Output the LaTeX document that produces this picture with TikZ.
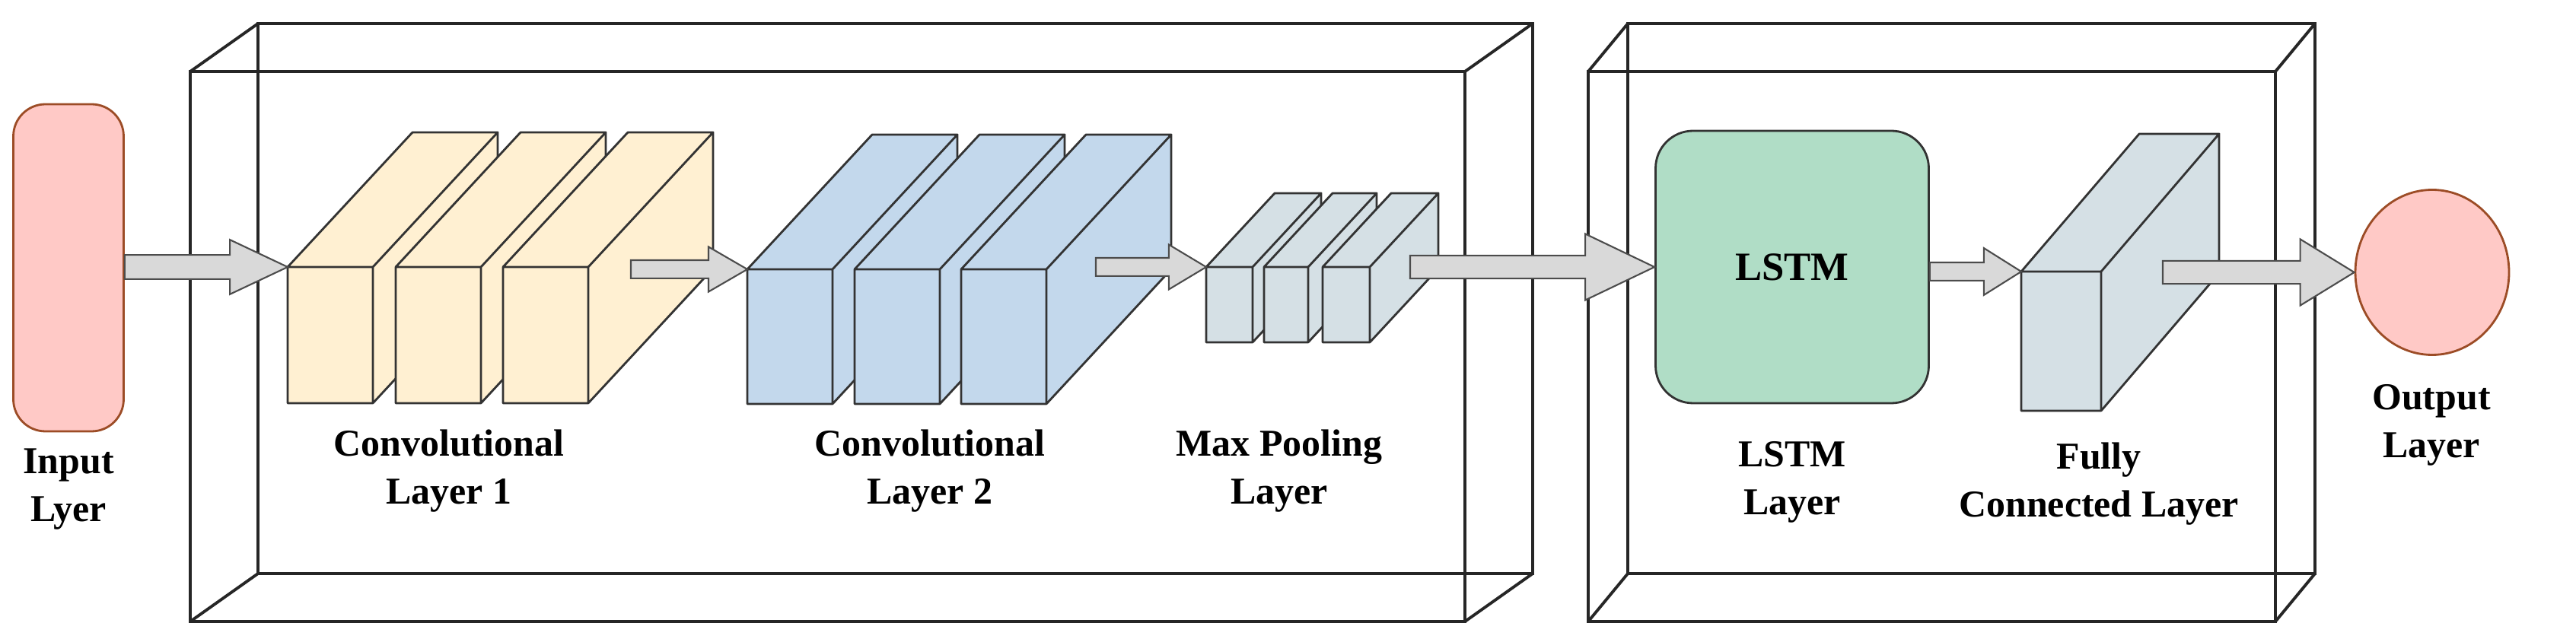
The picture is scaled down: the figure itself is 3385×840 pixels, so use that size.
\documentclass[tikz,border=0pt]{standalone}
\usepackage{fontspec}
\setmainfont{Liberation Serif}
\usetikzlibrary{calc,shapes.geometric}
\definecolor{inpink}{HTML}{FFC9C6}
\definecolor{convcream}{HTML}{FFF0D2}
\definecolor{convblue}{HTML}{C3D8EC}
\definecolor{poolgray}{HTML}{D5E0E5}
\definecolor{lstmgreen}{HTML}{B0DDC6}
\definecolor{arrgray}{HTML}{D9D9D9}
\tikzset{
  frame/.style={line width=1.1pt, draw=black!85},
  lbl/.style={font=\fontsize{14.2}{18}\selectfont\bfseries, align=center},
  fatarrow/.style={fill=arrgray, draw=black!70, line width=0.6pt, line join=miter},
}
% name, x, y, w, h, dx, dy, colour
\newcommand\layerblock[8]{%
  \filldraw[fill=#8, draw=black!80, line width=0.8pt, line join=round]
    (#2,#3) rectangle ++(#4,#5)
    (#2,#3) -- ++(#6,-#7) -- ++(#4,0) -- ++(-#6,#7) -- cycle
    (#2+#4,#3) -- ++(#6,-#7) -- ++(0,#5) -- ++(-#6,#7) -- cycle;
  \coordinate (#1) at (#2,#3);}
% box: x1, y1, x2, y2, dx, dy
\newcommand\stageframe[6]{%
  \draw[frame] (#1,#2) rectangle (#3,#4);
  \draw[frame] (#1+#5,#2-#6) rectangle (#3+#5,#4-#6);
  \draw[frame] (#1,#2) -- ++(#5,-#6) (#3,#2) -- ++(#5,-#6)
    (#1,#4) -- ++(#5,-#6) (#3,#4) -- ++(#5,-#6);}
% start, tip, shaft half, head half, head length
\newcommand\bigarrow[5]{%
  \draw[fatarrow] let \p1=(#1), \p2=(#2) in
    (\x1,\y2-#3) -- (\x2-#5,\y2-#3) -- (\x2-#5,\y2-#4) -- (\x2,\y2)
    -- (\x2-#5,\y2+#4) -- (\x2-#5,\y2+#3) -- (\x1,\y2+#3) -- cycle;}
\begin{document}
\begin{tikzpicture}[x=0.1mm, y=-0.1mm]
  \useasboundingbox (0,0) rectangle (3385,840);
  % the two frames
  \stageframe{250}{94}{1925}{817}{89}{63}
  \stageframe{2087}{94}{2990}{817}{52}{63}
  % input and output
  \node[draw=black!60!red!40!brown, fill=inpink, rounded corners=12pt, line width=0.8pt,
        minimum width=1.45cm, minimum height=4.3cm] (input) at (90,352) {};
  \node[ellipse, draw=black!60!red!40!brown, fill=inpink, line width=0.8pt,
        minimum width=2.02cm, minimum height=2.17cm] (output) at (3196,358) {};
  % conv layers
  \layerblock{conva}{378}{351}{112}{179}{164}{177}{convcream}
  \layerblock{convb}{520}{351}{112}{179}{164}{177}{convcream}
  \layerblock{convc}{661}{351}{112}{179}{164}{177}{convcream}
  \layerblock{convd}{982}{354}{112}{177}{164}{177}{convblue}
  \layerblock{conve}{1123}{354}{112}{177}{164}{177}{convblue}
  \layerblock{convf}{1263}{354}{112}{177}{164}{177}{convblue}
  % max pooling
  \layerblock{poola}{1585}{351}{61}{99}{90}{97}{poolgray}
  \layerblock{poolb}{1661}{351}{58}{99}{90}{97}{poolgray}
  \layerblock{poolc}{1738}{351}{62}{99}{90}{97}{poolgray}
  % lstm and dense
  \node[draw=black!80, fill=lstmgreen, rounded corners=14pt, line width=0.8pt,
        minimum width=3.59cm, minimum height=3.58cm,
        font=\fontsize{15}{18}\selectfont\bfseries] (lstm) at (2355,351) {LSTM};
  \layerblock{dense}{2656}{357}{105}{183}{155}{181}{poolgray}
  % arrow start points
  \coordinate (sa) at (829,352);
  \coordinate (sb) at (1440,352);
  \coordinate (sc) at (1853,352);
  \coordinate (sd) at (2842,358);
  \bigarrow{input.east}{conva}{4.5pt}{10.2pt}{21.6pt}
  \bigarrow{sa}{convd}{3.4pt}{8.4pt}{14.5pt}
  \bigarrow{sb}{poola}{3.4pt}{8.4pt}{14pt}
  \bigarrow{sc}{lstm.west}{4.3pt}{12.4pt}{25.9pt}
  \bigarrow{lstm.east}{dense}{3.4pt}{8.8pt}{14pt}
  \bigarrow{sd}{output.west}{4.3pt}{12.4pt}{20.2pt}
  % labels
  \node[lbl] at (90,643) {Input\\Lyer};
  \node[lbl] at (590,619) {Convolutional\\Layer 1};
  \node[lbl] at (1222,619) {Convolutional\\Layer 2};
  \node[lbl] at (1681,619) {Max Pooling\\Layer};
  \node[lbl] at (2355,634) {LSTM\\Layer};
  \node[lbl] at (2758,636) {Fully\\Connected Layer};
  \node[lbl] at (3195,559) {Output\\Layer};
\end{tikzpicture}
\end{document}
